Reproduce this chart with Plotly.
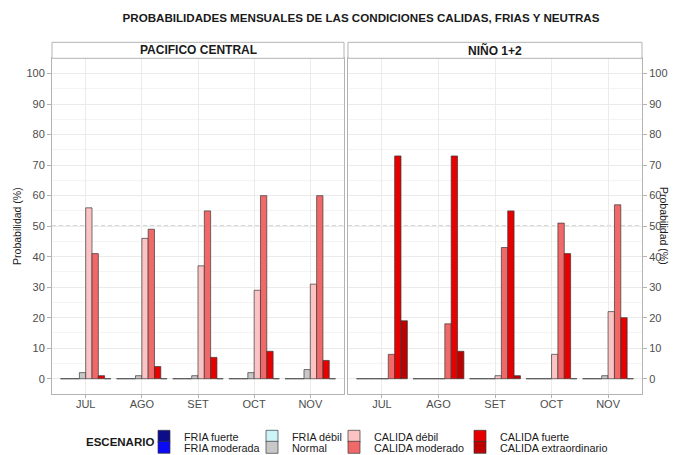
import plotly.graph_objects as go

months = ["JUL", "AGO", "SET", "OCT", "NOV"]
panels = ["PACIFICO CENTRAL", "NIÑO 1+2"]
scenarios = ["FRIA fuerte", "FRIA moderada", "FRIA débil", "Normal",
             "CALIDA débil", "CALIDA moderado", "CALIDA fuerte", "CALIDA extraordinario"]
colors = ["#0D0D8A", "#0A0AF5", "#CCF3F8", "#C8C8C8",
          "#FBC3C3", "#F06868", "#E60000", "#BD0000"]
y_ticks = [0, 10, 20, 30, 40, 50, 60, 70, 80, 90, 100]

# Pacifico Central (%)
pac_fria_fuerte = [0, 0, 0, 0, 0]
pac_fria_moderada = [0, 0, 0, 0, 0]
pac_fria_debil = [0, 0, 0, 0, 0]
pac_normal = [2, 1, 1, 2, 3]
pac_calida_debil = [56, 46, 37, 29, 31]
pac_calida_moderado = [41, 49, 55, 60, 60]
pac_calida_fuerte = [1, 4, 7, 9, 6]
pac_calida_extra = [0, 0, 0, 0, 0]

# Niño 1+2 (%)
nino_fria_fuerte = [0, 0, 0, 0, 0]
nino_fria_moderada = [0, 0, 0, 0, 0]
nino_fria_debil = [0, 0, 0, 0, 0]
nino_normal = [0, 0, 0, 0, 1]
nino_calida_debil = [0, 0, 1, 8, 22]
nino_calida_moderado = [8, 18, 43, 51, 57]
nino_calida_fuerte = [73, 73, 55, 41, 20]
nino_calida_extra = [19, 9, 1, 0, 0]

pac_series = [pac_fria_fuerte, pac_fria_moderada, pac_fria_debil, pac_normal,
              pac_calida_debil, pac_calida_moderado, pac_calida_fuerte, pac_calida_extra]
nino_series = [nino_fria_fuerte, nino_fria_moderada, nino_fria_debil, nino_normal,
               nino_calida_debil, nino_calida_moderado, nino_calida_fuerte, nino_calida_extra]

FONT = "Liberation Sans, Arial, sans-serif"
W, H = 676, 455

def px(v):
    return v / W

def py(v):
    return 1 - v / H

fig = go.Figure()
legend_ids = ["legend", "legend2", "legend3", "legend4",
              "legend5", "legend6", "legend7", "legend8"]
for i, name in enumerate(scenarios):
    fig.add_trace(go.Bar(
        x=months, y=pac_series[i], name=name, xaxis="x", yaxis="y",
        marker=dict(color=colors[i], line=dict(color="#3a3a3a", width=0.7)),
        legendgroup=name, legend=legend_ids[i], showlegend=True,
    ))
for i, name in enumerate(scenarios):
    fig.add_trace(go.Bar(
        x=months, y=nino_series[i], name=name, xaxis="x2", yaxis="y2",
        marker=dict(color=colors[i], line=dict(color="#3a3a3a", width=0.7)),
        legendgroup=name, showlegend=False,
    ))

axis_common = dict(
    showline=True, mirror=True, linecolor="#B3B3B3", linewidth=1,
    ticks="outside", tickcolor="#B3B3B3",
    tickfont=dict(family=FONT, size=11, color="#4D4D4D"),
    gridcolor="#EBEBEB", gridwidth=1, zeroline=False,
)
y_dom = [py(394), py(58.3)]
fig.update_layout(
    width=W, height=H,
    margin=dict(l=0, r=0, t=0, b=0, autoexpand=False),
    paper_bgcolor="white", plot_bgcolor="white",
    barmode="group", bargap=0.1, bargroupgap=0,
    title=dict(text="PROBABILIDADES MENSUALES DE LAS CONDICIONES CALIDAS, FRIAS Y NEUTRAS",
               x=px(361), y=py(18), xanchor="center", yanchor="middle",
               font=dict(family=FONT, size=11.6, color="#1a1a1a", weight="bold")),
    xaxis=dict(domain=[px(52), px(344)], anchor="y", range=[-0.6, 4.6],
               ticklen=3, ticklabelstandoff=-3, **axis_common),
    xaxis2=dict(domain=[px(348), px(642)], anchor="y2", range=[-0.6, 4.6],
                ticklen=3, ticklabelstandoff=-3, **axis_common),
    yaxis=dict(domain=y_dom, anchor="x", range=[-5, 105], tickvals=y_ticks, ticklen=4,
               minor=dict(dtick=5, showgrid=True, gridcolor="#F4F4F4"),
               title=dict(text="Probabilidad (%)", standoff=2,
                          font=dict(family=FONT, size=10.5, color="#1a1a1a")),
               **axis_common),
    yaxis2=dict(domain=y_dom, anchor="x2", side="right", range=[-5, 105], tickvals=y_ticks,
                ticklen=4, matches="y",
                minor=dict(dtick=5, showgrid=True, gridcolor="#F4F4F4"),
                **axis_common),
    showlegend=True,
)

# legends: two rows, four columns
leg_x = [144, 144, 252, 252, 334, 334, 460, 460]
leg_y = [436.3, 447.3, 436.3, 447.3, 436.3, 447.3, 436.3, 447.3]
for lid, lx, ly in zip(legend_ids, leg_x, leg_y):
    fig.update_layout({lid: dict(
        x=px(lx), y=py(ly), xanchor="left", yanchor="middle",
        xref="paper", yref="paper", orientation="v",
        bgcolor="rgba(0,0,0,0)", borderwidth=0,
        font=dict(family=FONT, size=10.8, color="#1a1a1a"),
    )})

# reference line at 50 %
for xr, yr in [("x", "y"), ("x2", "y2")]:
    fig.add_shape(type="line", xref=f"{xr} domain", yref=yr, x0=0, x1=1, y0=50, y1=50,
                  line=dict(color="#8c8c8c", width=1, dash="4px,3px"), layer="below")

# facet strips
for (x0, x1), label in zip([(52, 344), (348, 642)], panels):
    fig.add_shape(type="rect", xref="paper", yref="paper",
                  x0=px(x0), x1=px(x1), y0=py(58.3), y1=py(42.3),
                  line=dict(color="#B3B3B3", width=1), fillcolor="white")
    fig.add_annotation(text=label, xref="paper", yref="paper",
                       x=px((x0 + x1) / 2), y=py(50.3), showarrow=False,
                       xanchor="center", yanchor="middle",
                       font=dict(family=FONT, size=12, color="#1a1a1a", weight="bold"))

fig.add_annotation(text="Probabilidad (%)", xref="paper", yref="paper",
                   x=px(664), y=py(226), textangle=90, showarrow=False,
                   xanchor="center", yanchor="middle",
                   font=dict(family=FONT, size=10.5, color="#1a1a1a"))
fig.add_annotation(text="ESCENARIO", xref="paper", yref="paper",
                   x=px(120), y=py(442), showarrow=False,
                   xanchor="center", yanchor="middle",
                   font=dict(family=FONT, size=11.5, color="#1a1a1a", weight="bold"))

fig.write_html("out.html",
               config={"displayModeBar": False},
               post_script="document.body.style.margin='0';document.body.style.overflow='hidden';")
